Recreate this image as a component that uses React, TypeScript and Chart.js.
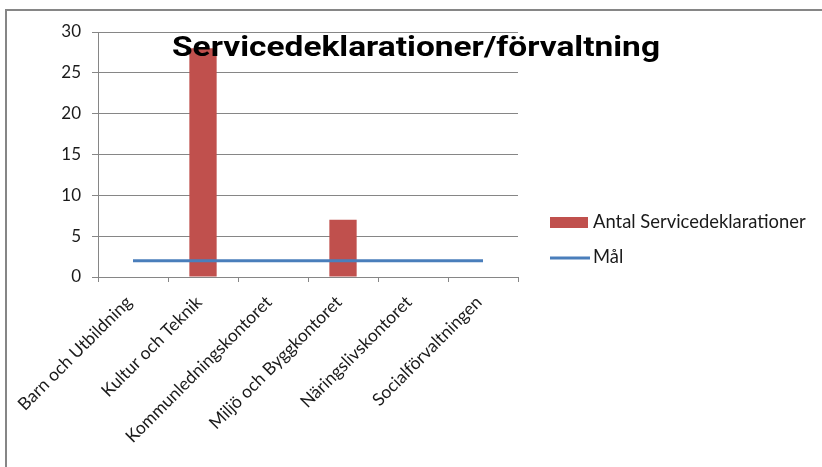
import React, { useEffect, useRef } from "react";
import { Chart, registerables } from "chart.js";

Chart.register(...registerables);

const categories = [
  "Barn och Utbildning",
  "Kultur och Teknik",
  "Kommunledningskontoret",
  "Miljö och Byggkontoret",
  "Näringslivskontoret",
  "Socialförvaltningen",
];
const antalValues = [0, 28, 0, 7, 0, 0];
const malValues = [2, 2, 2, 2, 2, 2];
const yTicks = [0, 5, 10, 15, 20, 25, 30];
const titleText = "Servicedeklarationer/förvaltning";
const seriesNames = ["Antal Servicedeklarationer", "Mål"];

const RED = "#c0504d";
const BLUE = "#4a7ebb";
const GRID = "#868686";
const TEXT = "#1a1a1a";
const FONT = "Lato";

const overlayPlugin = {
  id: "overlay",
  afterDraw(chart: any) {
    const ctx = chart.ctx;
    const area = chart.chartArea;
    ctx.save();
    // title
    ctx.font = `bold 28px Roboto`;
    ctx.fillStyle = "#000";
    ctx.textAlign = "left";
    ctx.textBaseline = "alphabetic";
    const w = ctx.measureText(titleText).width;
    const targetW = 488;
    const sx = targetW / w;
    ctx.save();
    ctx.translate(416 - targetW / 2, 56);
    ctx.scale(sx, 1);
    ctx.fillText(titleText, 0, 0);
    ctx.restore();
    // legend
    const lx = area.right + 32;
    ctx.fillStyle = RED;
    ctx.fillRect(lx, 217, 38, 11);
    ctx.strokeStyle = BLUE;
    ctx.lineWidth = 3;
    ctx.beginPath();
    ctx.moveTo(lx, 258);
    ctx.lineTo(lx + 40, 258);
    ctx.stroke();
    ctx.font = `18.4px ${FONT}`;
    ctx.fillStyle = TEXT;
    ctx.textAlign = "left";
    ctx.textBaseline = "middle";
    ctx.fillText(seriesNames[0], lx + 43, 222);
    ctx.fillText(seriesNames[1], lx + 43, 257);
    ctx.restore();
  },
};

export default function App() {
  const ref = useRef<HTMLCanvasElement | null>(null);
  useEffect(() => {
    if (!ref.current) return;
    const chart = new Chart(ref.current, {
      type: "bar",
      data: {
        labels: categories,
        datasets: [
          {
            type: "line",
            label: seriesNames[1],
            data: malValues,
            borderColor: BLUE,
            backgroundColor: BLUE,
            borderWidth: 3,
            pointRadius: 0,
            order: 0,
          } as any,
          {
            type: "bar",
            label: seriesNames[0],
            data: antalValues,
            backgroundColor: RED,
            borderWidth: 0,
            categoryPercentage: 0.39,
            barPercentage: 1,
            order: 1,
          },
        ],
      },
      options: {
        responsive: false,
        animation: false,
        layout: { padding: { top: 32, right: 304, left: 0, bottom: 0 } },
        plugins: {
          legend: { display: false },
          title: { display: false },
          tooltip: { enabled: false },
        },
        scales: {
          x: {
            offset: true,
            grid: {
              offset: true,
              drawOnChartArea: false,
              drawTicks: true,
              tickLength: 5,
              color: GRID,
            },
            border: { display: false },
            ticks: {
              maxRotation: 45,
              minRotation: 45,
              color: TEXT,
              font: { family: FONT, size: 17.5 },
              padding: 10,
              labelOffset: -4,
              autoSkip: false,
            },
            afterFit(scale: any) {
              scale.height = 190;
            },
          },
          y: {
            min: 0,
            max: 30,
            afterBuildTicks(scale: any) {
              scale.ticks = yTicks.map((v) => ({ value: v }));
            },
            grid: { color: GRID, tickLength: 6 },
            border: { color: GRID },
            ticks: {
              color: TEXT,
              font: { family: FONT, size: 17 },
              padding: 11,
            },
            afterFit(scale: any) {
              scale.width = 98;
            },
          },
        },
      },
      plugins: [overlayPlugin],
    });
    return () => chart.destroy();
  }, []);
  return (
    <div style={{ position: "fixed", left: 0, top: 0, width: 822, height: 467, background: "#fff", overflow: "hidden" }}>
      <canvas ref={ref} width={822} height={467} style={{ display: "block" }} />
      <div
        style={{
          position: "absolute",
          left: 5,
          top: 9,
          width: 900,
          height: 900,
          borderLeft: "2px solid #868686",
          borderTop: "2px solid #868686",
          pointerEvents: "none",
        }}
      />
    </div>
  );
}
